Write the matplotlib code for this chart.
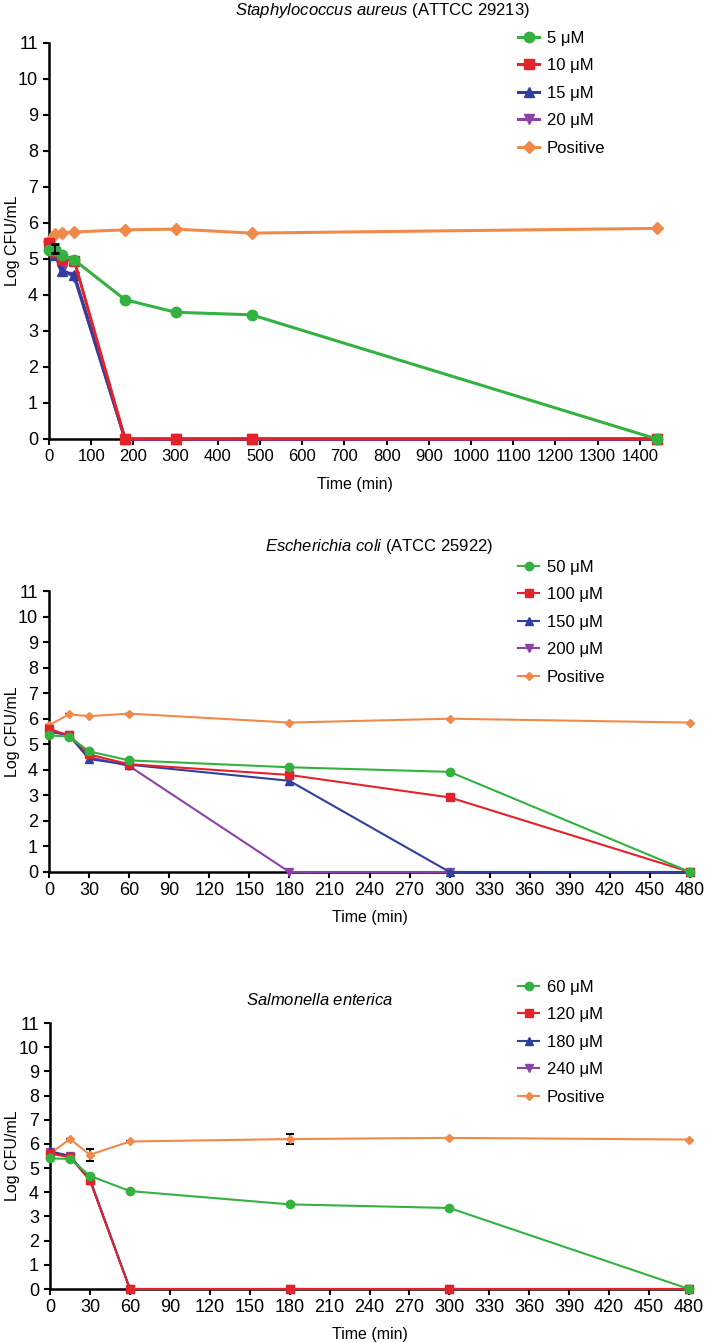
import matplotlib.pyplot as plt

plt.rcParams['font.family'] = ['Liberation Sans', 'DejaVu Sans']
plt.rcParams['mathtext.fontset'] = 'custom'
plt.rcParams['mathtext.it'] = 'Liberation Sans:italic'
plt.rcParams['mathtext.rm'] = 'Liberation Sans'

# --- Staphylococcus aureus ---
sa_time = [0, 15, 30, 60, 180, 300, 480, 1440]
sa_labels = ['5 μM', '10 μM', '15 μM', '20 μM', 'Positive']
sa_5 = [5.25, 5.25, 5.1, 4.97, 3.87, 3.52, 3.45, 0]
sa_10 = [5.45, 5.2, 5.0, 4.95, 0, 0, 0, 0]
sa_15 = [5.4, 5.1, 4.68, 4.55, 0, 0, 0, 0]
sa_20 = [5.4, 5.15, 4.7, 4.5, 0, 0, 0, 0]
sa_pos = [5.5, 5.7, 5.73, 5.75, 5.81, 5.83, 5.72, 5.85]
sa_pos_err = [0, 0, 0, 0, 0, 0, 0, 0]

# --- Escherichia coli ---
ec_time = [0, 15, 30, 60, 180, 300, 480]
ec_labels = ['50 μM', '100 μM', '150 μM', '200 μM', 'Positive']
ec_50 = [5.35, 5.3, 4.72, 4.37, 4.1, 3.92, 0]
ec_100 = [5.6, 5.35, 4.6, 4.22, 3.8, 2.92, 0]
ec_150 = [5.5, 5.35, 4.42, 4.2, 3.57, 0, 0]
ec_200 = [5.5, 5.38, 4.5, 4.15, 0, 0, 0]
ec_pos = [5.75, 6.17, 6.1, 6.2, 5.85, 6.0, 5.85]
ec_pos_err = [0, 0, 0, 0, 0, 0, 0]

# --- Salmonella enterica ---
se_time = [0, 15, 30, 60, 180, 300, 480]
se_labels = ['60 μM', '120 μM', '180 μM', '240 μM', 'Positive']
se_60 = [5.4, 5.38, 4.68, 4.05, 3.5, 3.35, 0]
se_120 = [5.6, 5.45, 4.5, 0, 0, 0, 0]
se_180 = [5.7, 5.5, 4.5, 0, 0, 0, 0]
se_240 = [5.65, 5.5, 4.55, 0, 0, 0, 0]
se_pos = [5.6, 6.2, 5.55, 6.1, 6.2, 6.25, 6.18]
se_pos_err = [0, 0, 0.25, 0, 0.2, 0, 0]

colors = ['#33b240', '#e3232b', '#303f9c', '#8b44a6', '#f08a4b']
markers = ['o', 's', '^', 'v', 'D']

W, H = 705, 1343
fig = plt.figure(figsize=(W / 100, H / 100), dpi=100)


def panel(box, t, series, err, labels, xlim, xticks, ms, lw, title_xy, title,
          leg_top, xsize=13):
    # box in pixels: left, top, right, bottom
    l, tp, r, b = box
    ax = fig.add_axes([l / W, 1 - b / H, (r - l) / W, (b - tp) / H])
    handles = {}
    for i in [4, 3, 2, 1, 0]:
        y = series[i]
        if i == 4:
            mk = ms * 0.75
            ax.errorbar(t, y, yerr=err, color=colors[i], ecolor='black',
                        elinewidth=1.2, capsize=3, capthick=1.5, lw=lw,
                        marker=markers[i], ms=mk, clip_on=False, zorder=3)
            h, = ax.plot([], [], color=colors[i], marker=markers[i], ms=mk, lw=lw)
        else:
            h, = ax.plot(t, y, color=colors[i], marker=markers[i], ms=ms,
                         lw=lw, clip_on=False, zorder=4 + (4 - i))
        handles[i] = h
    ax.set_xlim(xlim)
    ax.set_ylim(0, 11)
    ax.set_xticks(xticks)
    ax.set_yticks(range(0, 12))
    for s in ['top', 'right']:
        ax.spines[s].set_visible(False)
    for s in ['left', 'bottom']:
        ax.spines[s].set_linewidth(1.8)
    ax.tick_params(direction='out', length=4, width=1.5, labelsize=13)
    ax.tick_params(axis='x', pad=3, labelsize=xsize)
    ax.tick_params(axis='y', pad=4)
    ax.set_xlabel('Time (min)', fontsize=11.5)
    ax.set_ylabel('Log CFU/mL', fontsize=11.5)
    ax.xaxis.set_label_coords(0.5, -38 / (b - tp))
    ax.yaxis.set_label_coords((20 - l) / (r - l), 0.5)
    fig.text(title_xy[0] / W, 1 - title_xy[1] / H, title,
             ha='center', va='center', fontsize=12)
    fig.legend([handles[i] for i in range(5)], labels, loc='upper left',
               bbox_to_anchor=(511 / W, 1 - leg_top / H), frameon=False,
               fontsize=12, handlelength=1.3, handletextpad=0.45,
               labelspacing=0.75, borderaxespad=0)
    return ax


ax1 = panel((49, 43, 661, 439), sa_time,
            [sa_5, sa_10, sa_15, sa_20, sa_pos], sa_pos_err, sa_labels,
            (0, 1450), range(0, 1401, 100), 7.5, 2.2,
            (382, 11), r'$\it{Staphylococcus\ aureus}$ (ATTCC 29213)', 24,
            xsize=12)
# small error bar on the early S. aureus points
ax1.errorbar([15], [5.3], yerr=[0.12], fmt='none', ecolor='black',
             elinewidth=1.5, capsize=3, capthick=2, zorder=10)

panel((49, 591, 690, 872), ec_time,
      [ec_50, ec_100, ec_150, ec_200, ec_pos], ec_pos_err, ec_labels,
      (0, 480), range(0, 481, 30), 6, 1.5,
      (379, 546), r'$\it{Escherichia\ coli}$ (ATCC 25922)', 553)

panel((50, 1023, 689, 1289), se_time,
      [se_60, se_120, se_180, se_240, se_pos], se_pos_err, se_labels,
      (0, 480), range(0, 481, 30), 6, 1.5,
      (320, 1000), r'$\it{Salmonella\ enterica}$', 973)

fig.savefig('out.png', dpi=100)
